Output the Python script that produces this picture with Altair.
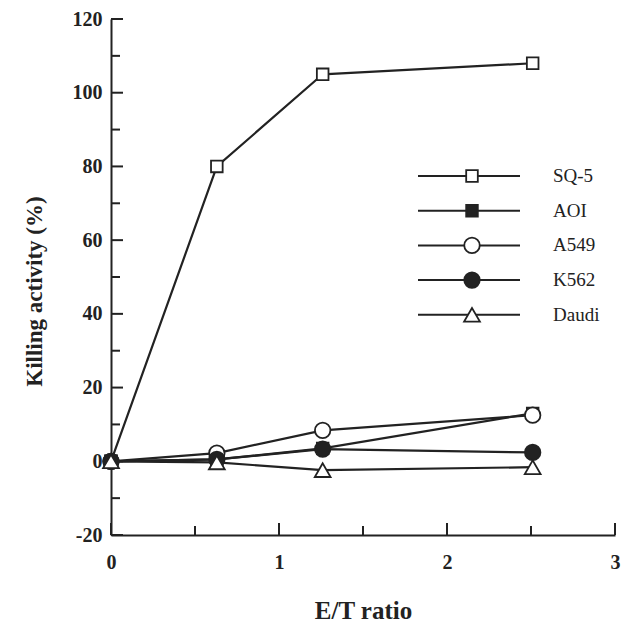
import altair as alt
import pandas as pd

# ---- data ----
et_ratio = [0, 0.63, 1.26, 2.51]
series_names = ["SQ-5", "AOI", "A549", "K562", "Daudi"]
sq5 = [0, 80, 105, 108]
aoi = [0, 0.5, 3.5, 13]
a549 = [0, 2.2, 8.4, 12.5]
k562 = [0, 0.5, 3.3, 2.4]
daudi = [0, -0.3, -2.4, -1.6]

y_major = [-20, 0, 20, 40, 60, 80, 100, 120]
y_minor = [-10, 10, 30, 50, 70, 90, 110]
x_major = [0, 1, 2, 3]
x_minor = [0.5, 1.5, 2.5]

# ---- styles ----
INK = "#222222"
FONT = "Liberation Serif"
W, H = 504, 516
shapes = ["square", "square", "circle", "circle", "triangle-up"]
fills = ["white", INK, "white", INK, "white"]
sizes = [135, 135, 240, 240, 250]

values = {"SQ-5": sq5, "AOI": aoi, "A549": a549, "K562": k562, "Daudi": daudi}
rows = []
for name in series_names:
    for xv, yv in zip(et_ratio, values[name]):
        rows.append({"series": name, "x": xv, "y": yv})
df = pd.DataFrame(rows)

xscale = alt.Scale(domain=[0, 3], nice=False, zero=False)
yscale = alt.Scale(domain=[-20, 120], nice=False, zero=False)

x_axis = alt.Axis(values=x_major, ticks=False, grid=False, title="E/T ratio", labelFlush=False,
                  labelFont=FONT, labelFontSize=20, labelFontWeight="bold", labelColor=INK,
                  labelPadding=17, titleFont=FONT, titleFontSize=25, titleFontWeight="bold",
                  titleColor=INK, titlePadding=26, domainColor=INK, domainWidth=2)
y_axis = alt.Axis(values=y_major, ticks=False, grid=False, title="Killing activity (%)",
                  labelFlush=False,
                  labelExpr="replace(datum.label, '\u2212', '-')",
                  labelFont=FONT, labelFontSize=20, labelFontWeight="bold", labelColor=INK,
                  labelPadding=9, titleFont=FONT, titleFontSize=23, titleFontWeight="bold",
                  titleColor=INK, titlePadding=26, titleY=272, domainColor=INK, domainWidth=2)

X = lambda f: alt.X(f, scale=xscale, axis=x_axis)
Y = lambda f: alt.Y(f, scale=yscale, axis=y_axis)

lines = alt.Chart(df).mark_line(color=INK, strokeWidth=2.2).encode(
    x=X("x:Q"), y=Y("y:Q"), detail="series:N")

point_layers = []
for i, name in enumerate(series_names):
    point_layers.append(alt.Chart(df).transform_filter(
        alt.datum.series == name).mark_point(
        filled=True, stroke=INK, strokeWidth=1.8, opacity=1,
        shape=shapes[i], fill=fills[i], size=sizes[i]).encode(x=X("x:Q"), y=Y("y:Q")))

# inward ticks
ytm = alt.Chart(pd.DataFrame({"y": y_major})).mark_rule(color=INK, strokeWidth=2).encode(
    y=Y("y:Q"), x=alt.value(0), x2=alt.value(12))
ytn = alt.Chart(pd.DataFrame({"y": y_minor})).mark_rule(color=INK, strokeWidth=2).encode(
    y=Y("y:Q"), x=alt.value(0), x2=alt.value(9))
xtm = alt.Chart(pd.DataFrame({"x": x_major})).mark_rule(color=INK, strokeWidth=2).encode(
    x=X("x:Q"), y=alt.value(H), y2=alt.value(H - 12))
xtn = alt.Chart(pd.DataFrame({"x": x_minor})).mark_rule(color=INK, strokeWidth=2).encode(
    x=X("x:Q"), y=alt.value(H), y2=alt.value(H - 9))

# manual legend (line through symbol, label to the right)
legend_layers = []
for i, name in enumerate(series_names):
    py = 157 + i * 34.7
    one = pd.DataFrame({"series": [name]})
    legend_layers.append(alt.Chart(one).mark_rule(color=INK, strokeWidth=2).encode(
        x=alt.value(307), x2=alt.value(409), y=alt.value(py)))
    legend_layers.append(alt.Chart(one).mark_point(
        filled=True, stroke=INK, strokeWidth=1.8, opacity=1,
        shape=shapes[i], fill=fills[i], size=sizes[i]).encode(
        x=alt.value(361), y=alt.value(py)))
    legend_layers.append(alt.Chart(one).mark_text(
        align="left", baseline="middle", font=FONT, fontSize=19, color=INK).encode(
        x=alt.value(442), y=alt.value(py), text="series:N"))

chart = alt.layer(lines, ytm, ytn, xtm, xtn, *point_layers, *legend_layers).properties(
    width=W, height=H,
    autosize=alt.AutoSizeParams(type="none"),
    padding={"left": 103, "top": 11, "right": 9, "bottom": 98},
    background="white",
).configure_view(stroke=None)

chart.save("out.html", embed_options={"renderer": "svg", "actions": False})
